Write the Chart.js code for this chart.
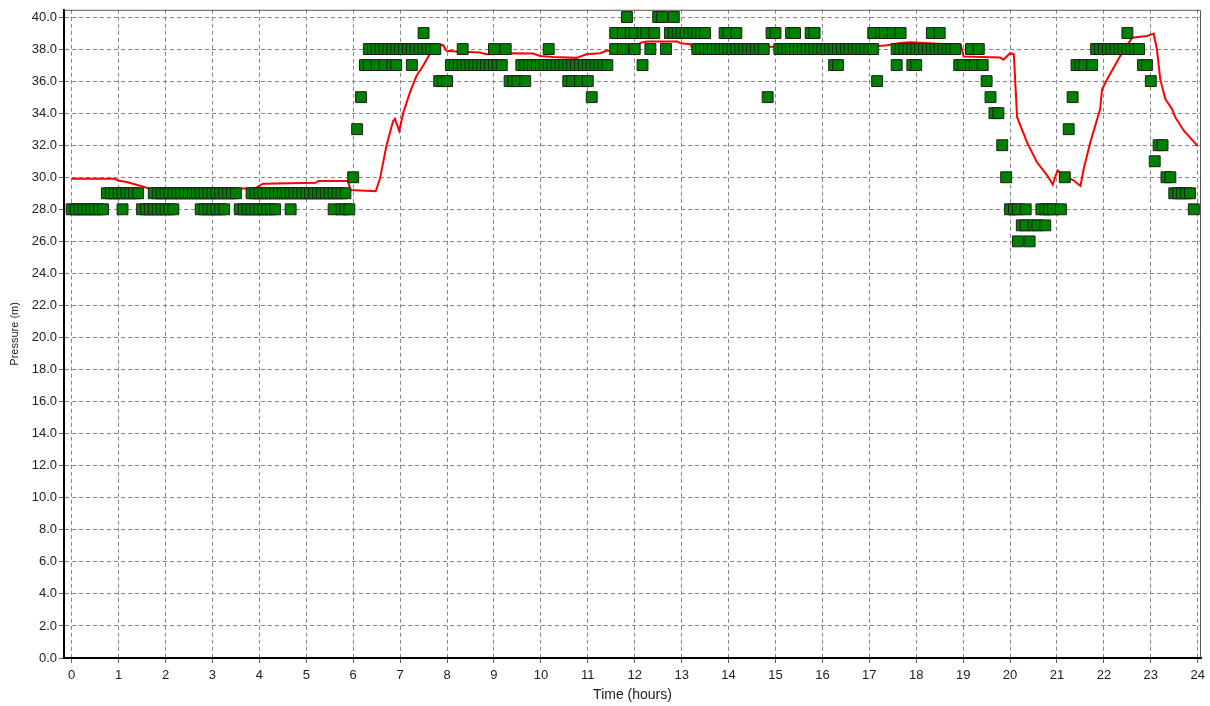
<!DOCTYPE html>
<html>
<head>
<meta charset="utf-8">
<script src="https://cdn.jsdelivr.net/npm/chart.js@4/dist/chart.umd.min.js"></script>
<style>
html,body{margin:0;padding:0;background:#ffffff;}
#wrap{width:1210px;height:706px;position:relative;}
</style>
</head>
<body>
<div id="wrap"><canvas id="c" width="1210" height="706"></canvas></div>
<script>
// ---- axis tick values ----
const xTicks = [0,1,2,3,4,5,6,7,8,9,10,11,12,13,14,15,16,17,18,19,20,21,22,23,24];
const yTicks = [0,2,4,6,8,10,12,14,16,18,20,22,24,26,28,30,32,34,36,38,40];

// ---- simulated pressure (red line): time in hours, pressure in m ----
const simTime = [0,0.92,0.99,1.17,1.42,1.63,3.62,3.91,4.08,5.2,5.26,5.89,5.94,6.48,6.57,6.71,6.85,6.89,6.98,7.07,7.21,7.35,7.49,7.63,7.85,7.92,7.99,8.2,8.7,8.84,9.37,9.84,9.98,10.26,10.76,10.97,11.26,11.4,11.89,12.13,12.27,12.91,12.98,13.19,13.23,14.93,17.27,17.38,17.7,17.87,18.95,19.01,19.79,19.86,20.0,20.08,20.15,20.36,20.57,20.79,20.91,21.01,21.14,21.35,21.5,21.57,21.71,21.92,21.96,22.07,22.21,22.35,22.49,22.6,22.92,23.06,23.13,23.2,23.31,23.45,23.52,23.7,24.0];
const simPressure = [29.9,29.9,29.8,29.7,29.5,29.32,29.3,29.32,29.6,29.65,29.77,29.77,29.2,29.13,29.9,32.0,33.5,33.65,32.9,34.06,35.3,36.34,36.96,37.68,38.26,38.24,37.89,37.85,37.78,37.68,37.74,37.72,37.57,37.5,37.45,37.68,37.74,37.89,37.89,38.4,38.47,38.47,38.36,38.3,38.0,38.14,38.2,38.24,38.4,38.42,38.25,37.53,37.47,37.33,37.74,37.68,33.75,32.19,30.95,30.12,29.54,30.43,30.12,29.81,29.46,30.53,32.19,34.26,35.47,36.12,36.85,37.58,38.2,38.71,38.82,38.96,37.99,36.12,34.88,34.26,33.75,32.92,31.94];

// ---- observed pressure (green squares): times in minutes for each pressure level ----
const obs26 = [1210,1225];
const obs27 = [1215,1220,1230,1235,1245];
const obs28 = [0,5,10,15,20,25,30,35,40,65,90,95,100,105,110,115,120,125,130,165,170,175,180,185,190,195,215,220,225,230,235,240,245,250,255,260,280,335,345,350,355,1200,1205,1210,1220,1240,1245,1250,1255,1265,1435];
const obs29 = [45,50,55,60,65,70,75,80,85,105,110,115,120,125,130,135,140,145,150,155,160,165,170,175,180,185,190,195,200,205,210,230,235,240,245,250,255,260,265,270,275,280,285,290,295,300,305,310,315,320,325,330,335,340,345,350,1410,1415,1420,1425,1430];
const obs30 = [360,1195,1270,1400,1405];
const obs31 = [1385];
const obs32 = [1190,1390,1395];
const obs33 = [365,1275];
const obs34 = [1180,1185];
const obs35 = [370,665,890,1175,1280];
const obs36 = [470,475,480,560,565,570,580,635,640,650,660,1030,1170,1380];
const obs37 = [375,380,390,400,410,415,435,485,490,495,500,505,510,515,520,525,530,535,540,545,550,575,580,585,590,595,600,605,610,615,620,625,630,635,640,645,650,655,660,665,670,675,680,685,730,975,980,1055,1075,1080,1135,1140,1150,1155,1165,1285,1290,1295,1305,1370,1375];
const obs38 = [380,385,390,395,400,405,410,415,420,425,430,435,440,445,450,455,460,465,500,540,555,610,695,705,720,740,760,800,805,810,815,820,825,830,835,840,845,850,855,860,865,870,875,880,885,905,910,915,920,925,930,935,940,945,950,955,960,965,970,975,980,985,990,995,1000,1005,1010,1015,1020,1025,1055,1060,1065,1070,1075,1080,1085,1090,1095,1100,1105,1110,1115,1120,1125,1130,1150,1160,1310,1315,1320,1325,1330,1335,1340,1345,1350,1355,1360,1365];
const obs39 = [450,695,705,715,720,730,735,745,765,770,775,780,785,790,795,800,805,810,835,840,850,895,900,920,925,945,950,1025,1035,1040,1050,1060,1100,1110,1350];
const obs40 = [710,750,755,770];

const obsLevels = [26,27,28,29,30,31,32,33,34,35,36,37,38,39,40];
const obsTimes = [obs26,obs27,obs28,obs29,obs30,obs31,obs32,obs33,obs34,obs35,obs36,obs37,obs38,obs39,obs40];

const obsPoints = [];
obsLevels.forEach((lv, i) => obsTimes[i].forEach(m => obsPoints.push({x: m / 60, y: lv})));
const simPoints = simTime.map((t, i) => ({x: t, y: simPressure[i]}));

const FONT = '"Liberation Sans", Arial, sans-serif';

const framePlugin = {
  id: 'frame',
  afterDraw(chart) {
    const {ctx, chartArea: a} = chart;
    ctx.save();
    ctx.strokeStyle = '#555555';
    ctx.lineWidth = 1;
    ctx.beginPath();
    ctx.moveTo(a.left, a.top + 0.5);
    ctx.lineTo(a.right - 0.5, a.top + 0.5);
    ctx.lineTo(a.right - 0.5, a.bottom);
    ctx.stroke();
    ctx.restore();
  }
};

new Chart(document.getElementById('c'), {
  type: 'scatter',
  data: {
    datasets: [
      {
        label: 'Observed',
        data: obsPoints,
        order: 0,
        showLine: false,
        pointStyle: 'rect',
        pointRadius: 7.7,
        pointBackgroundColor: '#008000',
        pointBorderColor: '#1e1e1e',
        pointBorderWidth: 1
      },
      {
        label: 'Simulated',
        data: simPoints,
        order: 1,
        showLine: true,
        borderColor: '#ff0000',
        borderWidth: 2,
        pointRadius: 0,
        tension: 0,
        fill: false
      }
    ]
  },
  options: {
    responsive: false,
    animation: false,
    devicePixelRatio: 1,
    events: [],
    layout: {padding: {top: 7, right: 8, left: 0, bottom: 0}},
    plugins: {legend: {display: false}, tooltip: {enabled: false}},
    scales: {
      x: {
        type: 'linear',
        min: -0.164,
        max: 24.07,
        afterFit(s) { s.height = 48; },
        afterBuildTicks(s) { s.ticks = xTicks.map(v => ({value: v})); },
        ticks: {
          autoSkip: false, maxRotation: 0, padding: 5,
          color: '#222222', font: {family: FONT, size: 13},
          callback: v => String(v)
        },
        grid: {color: '#868686', lineWidth: 1, drawTicks: true, tickLength: 5, tickColor: '#666666', tickBorderDash: []},
        border: {display: true, color: '#000000', width: 2, dash: [4, 3]},
        title: {display: true, text: 'Time (hours)', color: '#222222', font: {family: FONT, size: 14}, padding: {top: 0, bottom: 2}}
      },
      y: {
        type: 'linear',
        min: 0,
        max: 40.45,
        afterFit(s) { s.width = 64; },
        afterBuildTicks(s) { s.ticks = yTicks.map(v => ({value: v})); },
        ticks: {
          autoSkip: false, padding: 2,
          color: '#222222', font: {family: FONT, size: 13},
          callback: v => Number(v).toFixed(1)
        },
        grid: {color: '#868686', lineWidth: 1, drawTicks: true, tickLength: 5, tickColor: '#666666', tickBorderDash: []},
        border: {display: true, color: '#000000', width: 2, dash: [4, 3]},
        title: {display: true, text: 'Pressure (m)', color: '#222222', font: {family: FONT, size: 11}, padding: {top: 8, bottom: 0}}
      }
    }
  },
  plugins: [framePlugin]
});
</script>
</body>
</html>
